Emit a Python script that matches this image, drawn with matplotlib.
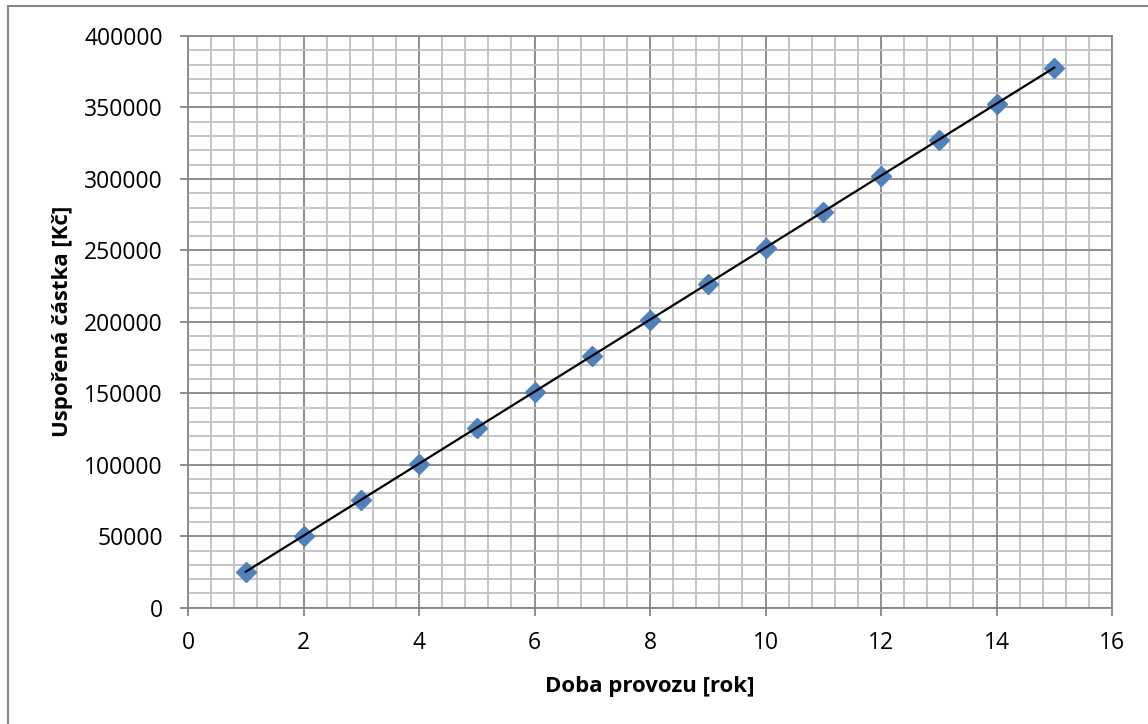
import matplotlib
matplotlib.use("Agg")
import matplotlib.pyplot as plt
from matplotlib.ticker import MultipleLocator
from matplotlib.patches import Rectangle

# data
years = [1, 2, 3, 4, 5, 6, 7, 8, 9, 10, 11, 12, 13, 14, 15]
savings = [25190, 50380, 75570, 100760, 125950, 151140, 176330, 201520,
           226710, 251900, 277090, 302280, 327470, 352660, 377850]

x_label = "Doba provozu [rok]"
y_label = "Uspořená částka [Kč]"

plt.rcParams['font.family'] = ['Open Sans', 'DejaVu Sans']

fig = plt.figure(figsize=(11.48, 7.24), dpi=100)
ax = fig.add_axes([188 / 1148, 1 - 607.7 / 724, 924 / 1148, 571.7 / 724])

major_gray = '#868686'
minor_gray = '#c0c0c0'

ax.set_xlim(0, 16)
ax.set_ylim(0, 400000)
ax.xaxis.set_major_locator(MultipleLocator(2))
ax.xaxis.set_minor_locator(MultipleLocator(0.4))
ax.yaxis.set_major_locator(MultipleLocator(50000))
ax.yaxis.set_minor_locator(MultipleLocator(10000))

ax.set_axisbelow(True)
ax.grid(which='minor', color=minor_gray, linewidth=1.3)
ax.grid(which='major', color=major_gray, linewidth=1.3)

for s in ax.spines.values():
    s.set_color(major_gray)
    s.set_linewidth(1.3)

ax.tick_params(which='major', direction='out', length=6, width=1.3,
               color=major_gray, labelsize=16.5)
ax.tick_params(axis='x', pad=11)
ax.tick_params(axis='y', pad=12)
ax.tick_params(which='minor', length=0)

ax.plot(years, savings, linestyle='none', marker='D', markersize=10.5,
        color='#4f81bd', zorder=3, clip_on=False)
ax.plot(years, savings, color='black', linewidth=1.6, zorder=4)

ax.set_xlabel(x_label, fontsize=16, fontweight='bold')
ax.set_ylabel(y_label, fontsize=16, fontweight='bold')
ax.xaxis.set_label_coords(0.5, (607.7 - 676) / 571.7)
ax.yaxis.set_label_coords((73 - 188) / 924, 0.5)

# chart frame
fig.patches.append(Rectangle((8 / 1148, -0.05), 1.2, 1 - 6 / 724 + 0.05,
                             transform=fig.transFigure, fill=False,
                             edgecolor=major_gray, linewidth=1.5))

fig.savefig('out.png', dpi=100)
